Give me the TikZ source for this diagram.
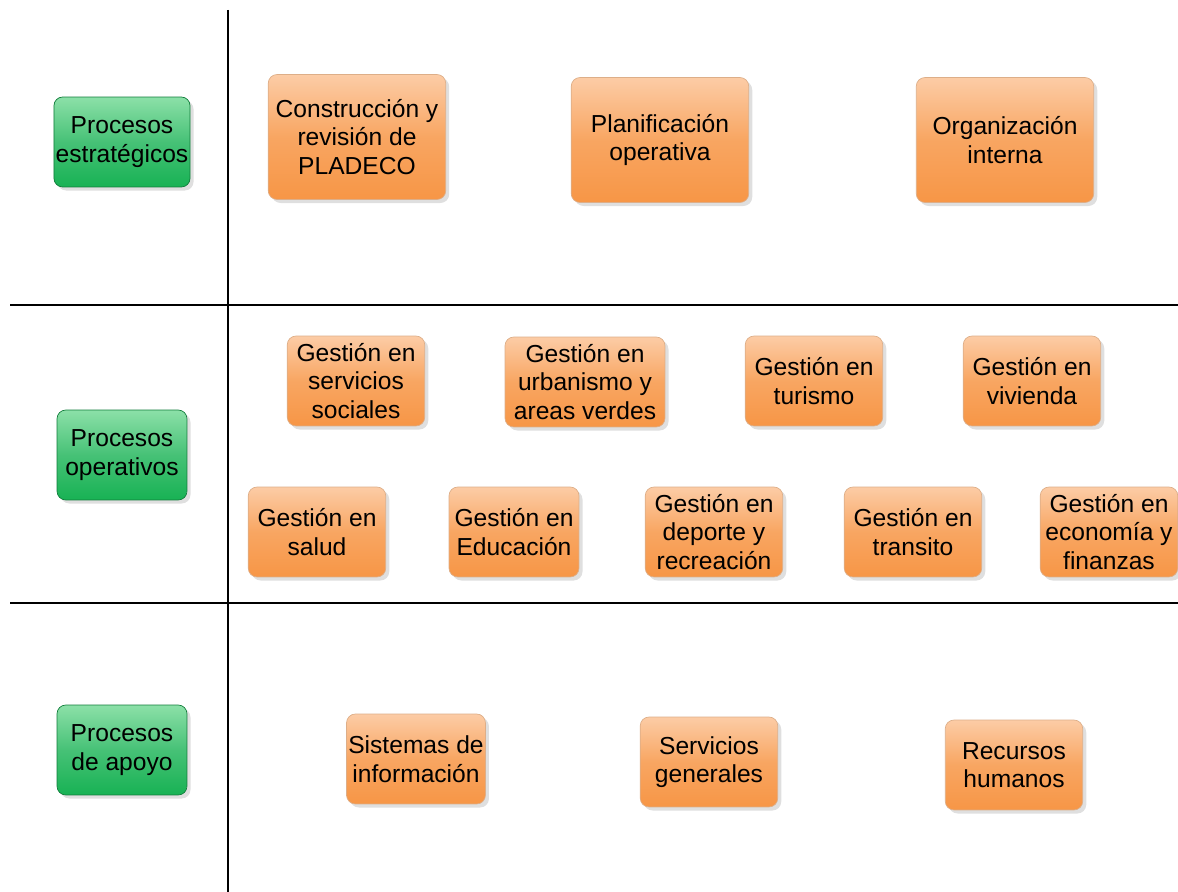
\documentclass[tikz,border=0pt]{standalone}
\usepackage{fontspec}
\setmainfont{Liberation Sans}
\usetikzlibrary{shadows, positioning}

\definecolor{procorange}{RGB}{247,150,70}
\definecolor{proclight}{RGB}{252,204,166}
\definecolor{procgreen}{RGB}{24,178,84}
\definecolor{greenlight}{RGB}{140,224,168}

\begin{document}
\begin{tikzpicture}[
        x = 0.02cm, y = -0.02cm,
        every node/.style = {font = \fontsize{14}{16.2}\selectfont, align = center},
        proc/.style = {rounded corners = 5pt, draw = procorange!80!black!60,
            top color = proclight, bottom color = procorange, middle color = procorange!85!white,
            drop shadow = {opacity = 0.25, shadow xshift = 2pt, shadow yshift = -2pt},
            minimum width = 2.75cm, minimum height = 1.8cm, inner sep = 1pt},
        tall/.style = {minimum width = 3.55cm, minimum height = 2.5cm},
        kind/.style = {proc, draw = procgreen!70!black, top color = greenlight,
            bottom color = procgreen, middle color = procgreen!80!white,
            minimum width = 2.6cm, minimum height = 1.8cm},
        divider/.style = {line width = 1.5pt}
    ]
      \useasboundingbox (0,0) rectangle (1178,892);

      % lanes
      \coordinate (vtop) at (228,10);
      \coordinate (vbot) at (228,892);
      \coordinate (h1l) at (10,305);
      \coordinate (h1r) at (1178,305);
      \coordinate (h2l) at (10,603);
      \coordinate (h2r) at (1178,603);
      \draw[divider] (vtop) -- (vbot);
      \draw[divider] (h1l) -- (h1r);
      \draw[divider] (h2l) -- (h2r);

      % process kinds
      \node[kind] (estrat) at (122,142) {Procesos\\estratégicos};
      \node[kind] (operat) at (122,455) {Procesos\\operativos};
      \node[kind] (apoyo) at (122,750) {Procesos\\de apoyo};

      % strategic
      \node[proc, tall] (pladeco) at (357,137) {Construcción y\\revisión de\\PLADECO};
      \node[proc, tall] (planif) at (660,140) {Planificación\\operativa};
      \node[proc, tall] (organiz) at (1005,140) {Organización\\interna};

      % operative
      \node[proc] (sociales) at (356,381) {Gestión en\\servicios\\sociales};
      \node[proc, minimum width = 3.2cm] (urban) at (585,382) {Gestión en\\urbanismo y\\areas verdes};
      \node[proc] (turismo) at (814,381) {Gestión en\\turismo};
      \node[proc] (vivienda) at (1032,381) {Gestión en\\vivienda};
      \node[proc] (salud) at (317,532) {Gestión en\\salud};
      \node[proc, minimum width = 2.6cm] (educ) at (514,532) {Gestión en\\Educación};
      \node[proc] (deporte) at (714,532) {Gestión en\\deporte y\\recreación};
      \node[proc] (transito) at (913,532) {Gestión en\\transito};
      \node[proc] (economia) at (1109,532) {Gestión en\\economía y\\finanzas};

      % support
      \node[proc] (sistemas) at (416,759) {Sistemas de\\información};
      \node[proc] (servicios) at (709,762) {Servicios\\generales};
      \node[proc] (recursos) at (1014,765) {Recursos\\humanos};
\end{tikzpicture}
\end{document}
